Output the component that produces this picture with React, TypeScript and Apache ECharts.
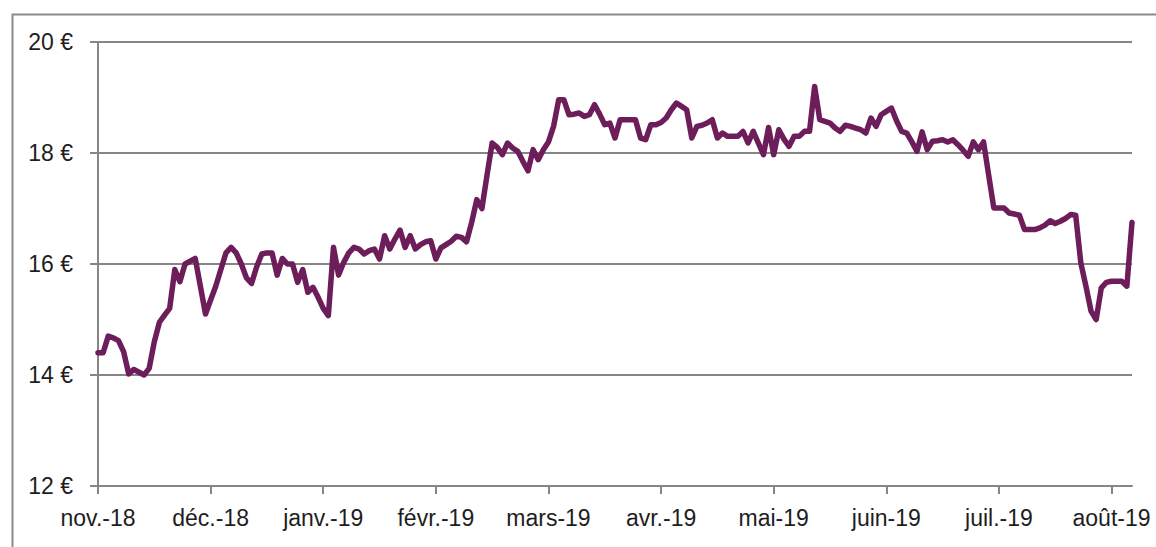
import React, { useEffect, useRef } from "react";
import * as echarts from "echarts";

// Month tick labels (one every TICK_STEP trading days)
const monthLabels = [
  "nov.-18", "déc.-18", "janv.-19", "févr.-19", "mars-19",
  "avr.-19", "mai-19", "juin-19", "juil.-19", "août-19",
];
const TICK_STEP = 22;

// Daily closing prices (€), Nov 2018 – Aug 2019
const prices = [
  14.4, 14.4, 14.7, 14.67, 14.62, 14.42, 14.02, 14.1, 14.05, 14.0,
  14.12, 14.6, 14.95, 15.08, 15.2, 15.9, 15.68, 16.0, 16.05, 16.1,
  15.6, 15.1, 15.35, 15.6, 15.9, 16.2, 16.3, 16.2, 16.0, 15.75,
  15.65, 15.95, 16.18, 16.2, 16.2, 15.8, 16.1, 16.0, 16.0, 15.67,
  15.9, 15.49, 15.58, 15.4, 15.2, 15.07, 16.3, 15.8, 16.03, 16.2,
  16.3, 16.27, 16.18, 16.24, 16.27, 16.09, 16.51, 16.27, 16.45, 16.61,
  16.3, 16.51, 16.27, 16.35, 16.4, 16.42, 16.09, 16.29, 16.35, 16.41,
  16.5, 16.48, 16.4, 16.75, 17.16, 17.0, 17.6, 18.18, 18.1, 17.97,
  18.18, 18.09, 18.03, 17.85, 17.68, 18.06, 17.88, 18.06, 18.2, 18.48,
  18.96, 18.96, 18.69, 18.7, 18.72, 18.66, 18.69, 18.87, 18.7, 18.51,
  18.54, 18.27, 18.6, 18.6, 18.6, 18.6, 18.27, 18.24, 18.51, 18.51,
  18.55, 18.63, 18.78, 18.9, 18.84, 18.78, 18.27, 18.48, 18.5, 18.54,
  18.6, 18.27, 18.36, 18.3, 18.3, 18.3, 18.39, 18.18, 18.39, 18.18,
  17.97, 18.46, 17.97, 18.42, 18.25, 18.12, 18.3, 18.3, 18.39, 18.39,
  19.2, 18.6, 18.57, 18.54, 18.45, 18.39, 18.5, 18.48, 18.45, 18.42,
  18.36, 18.63, 18.48, 18.69, 18.75, 18.81, 18.58, 18.39, 18.36, 18.2,
  18.03, 18.38, 18.06, 18.21, 18.22, 18.24, 18.2, 18.24, 18.15, 18.05,
  17.94, 18.2, 18.06, 18.2, 17.6, 17.01, 17.01, 17.01, 16.92, 16.9,
  16.88, 16.62, 16.62, 16.62, 16.65, 16.7, 16.78, 16.73, 16.77, 16.82,
  16.89, 16.88, 16.02, 15.6, 15.15, 15.0, 15.57, 15.67, 15.69, 15.69,
  15.69, 15.6, 16.75,
];

const yTicks = [12, 14, 16, 18, 20];

export default function App() {
  const ref = useRef<HTMLDivElement>(null);

  useEffect(() => {
    if (!ref.current) return;
    const chart = echarts.init(ref.current, null, { renderer: "svg" });
    const categories = prices.map((_, i) =>
      i % TICK_STEP === 0 ? monthLabels[i / TICK_STEP] ?? "" : ""
    );
    const gray = "#868686";
    const textStyle = {
      color: "#1e1e1e",
      fontFamily: "'Liberation Sans', Arial, sans-serif",
      fontSize: 23,
    };
    chart.setOption({
      animation: false,
      backgroundColor: "#ffffff",
      graphic: [
        {
          type: "rect",
          left: 10,
          top: 12,
          shape: { x: 0, y: 0, width: 1200, height: 600 },
          style: { fill: "none", stroke: "#8a8a8a", lineWidth: 2 },
          silent: true,
        },
      ],
      grid: { left: 98, right: 24, top: 42, bottom: 61, containLabel: false },
      xAxis: {
        type: "category",
        data: categories,
        boundaryGap: false,
        axisLine: { show: true, lineStyle: { color: gray, width: 2 } },
        axisTick: {
          show: true,
          interval: TICK_STEP - 1,
          length: 8,
          lineStyle: { color: gray, width: 2 },
        },
        axisLabel: { ...textStyle, interval: TICK_STEP - 1, margin: 20 },
        splitLine: { show: false },
      },
      yAxis: {
        type: "value",
        min: yTicks[0],
        max: yTicks[yTicks.length - 1],
        interval: 2,
        axisLine: { show: true, lineStyle: { color: gray, width: 2 } },
        axisTick: { show: true, length: 8, lineStyle: { color: gray, width: 2 } },
        axisLabel: { ...textStyle, margin: 25, formatter: (v: number) => `${v} €` },
        splitLine: { show: true, lineStyle: { color: gray, width: 2 } },
      },
      series: [
        {
          type: "line",
          data: prices,
          showSymbol: false,
          symbol: "none",
          lineStyle: { color: "#6C1D5A", width: 5.5, join: "round", cap: "round" },
        },
      ],
    });
    return () => chart.dispose();
  }, []);

  return (
    <div
      ref={ref}
      style={{ position: "fixed", left: 0, top: 0, width: 1156, height: 547 }}
    />
  );
}
